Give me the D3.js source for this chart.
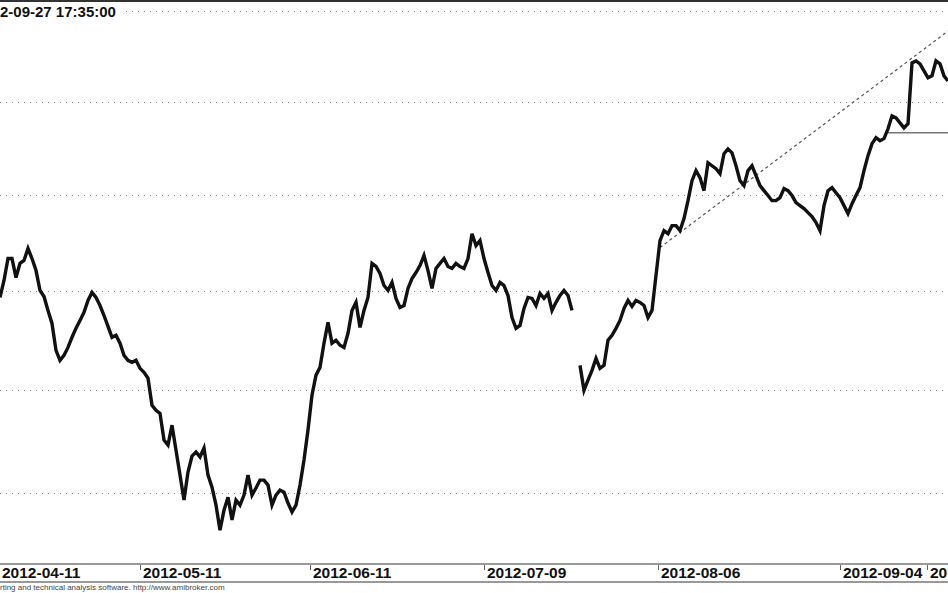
<!DOCTYPE html>
<html>
<head>
<meta charset="utf-8">
<script src="https://cdn.jsdelivr.net/npm/d3@7"></script>
<style>
  body { margin: 0; background: #fff; }
  svg { display: block; }
</style>
</head>
<body>
<div id="chart"></div>
<script>
// Price series, one value per bar (null = no data)
const closes = [
  1596.8, 1605.5, 1616.8, 1616.8, 1607.0, 1614.3, 1615.8, 1622.0, 1616.8, 1610.6,
  1600.4, 1597.3, 1590.2, 1583.6, 1570.0, 1565.0, 1567.5, 1571.5, 1576.6, 1581.1,
  1585.1, 1589.2, 1595.3, 1599.4, 1596.8, 1592.7, 1587.6, 1582.1, 1576.6, 1577.6,
  1573.6, 1567.5, 1565.0, 1564.0, 1565.0, 1561.0, 1559.0, 1556.1, 1542.7, 1540.2,
  1538.7, 1525.6, 1523.2, 1532.9, 1520.7, 1508.6, 1496.6, 1510.1, 1517.8, 1519.8,
  1517.4, 1521.7, 1508.6, 1502.8, 1494.2, 1482.3, 1491.8, 1498.0, 1487.1, 1496.6,
  1494.2, 1499.0, 1508.6, 1499.0, 1502.4, 1506.2, 1506.2, 1503.8, 1494.2, 1499.0,
  1501.4, 1500.4, 1495.2, 1490.9, 1494.2, 1503.8, 1515.9, 1530.5, 1547.7, 1557.6,
  1561.5, 1573.6, 1584.1, 1573.6, 1575.1, 1572.6, 1571.5, 1578.6, 1590.2, 1594.3,
  1581.6, 1590.2, 1596.8, 1614.3, 1612.7, 1609.1, 1602.9, 1600.4, 1604.5, 1596.3,
  1591.7, 1592.7, 1601.4, 1606.5, 1609.6, 1613.2, 1618.4, 1610.6, 1601.4, 1611.7,
  1614.3, 1616.8, 1612.7, 1611.7, 1614.3, 1612.7, 1611.7, 1616.8, 1629.7, 1623.5,
  1626.1, 1616.8, 1609.6, 1602.9, 1600.4, 1604.5, 1602.9, 1597.8, 1586.6, 1581.1,
  1582.6, 1591.2, 1596.8, 1596.3, 1592.7, 1598.8, 1596.3, 1598.8, 1590.2, 1594.3,
  1597.8, 1600.4, 1597.8, 1590.2, null,   1562.5, 1550.1, 1555.1, 1560.0, 1566.0,
  1561.0, 1562.5, 1575.1, 1577.6, 1581.1, 1585.1, 1591.2, 1595.3, 1592.2, 1595.3,
  1594.3, 1592.7, 1586.6, 1590.2, 1608.1, 1626.1, 1631.3, 1629.7, 1633.9, 1633.9,
  1631.3, 1637.6, 1647.0, 1657.6, 1662.9, 1659.2, 1652.3, 1667.1, 1665.5, 1663.9,
  1661.3, 1671.9, 1674.5, 1672.4, 1665.5, 1657.6, 1655.0, 1662.9, 1665.5, 1660.2,
  1655.0, 1652.3, 1649.7, 1647.0, 1647.0, 1648.6, 1653.4, 1652.3, 1649.7, 1646.0,
  1644.4, 1642.8, 1640.7, 1638.6, 1635.5, 1631.3, 1644.4, 1652.3, 1653.9, 1651.2,
  1648.6, 1644.4, 1640.2, 1645.4, 1649.7, 1653.9, 1662.9, 1670.9, 1677.3, 1680.5,
  1678.9, 1680.0, 1685.3, 1692.3, 1691.2, 1688.5, 1685.8, 1688.0, 1721.2, 1722.3,
  1720.7, 1716.8, 1713.0, 1714.1, 1722.3, 1720.7, 1714.1, 1711.3
];

// Date labels and the bar positions where they sit
const dateLabels = ["2012-04-11", "2012-05-11", "2012-06-11", "2012-07-09", "2012-08-06", "2012-09-04", "2012-10-01"];
const dateBars = [-0.25, 35, 77.5, 121, 164.5, 210, 231.75];

// Horizontal grid levels (log price axis)
const gridLevels = [1750, 1700, 1650, 1600, 1550, 1500];

// Drawn studies
const trendBars = [165, 237];
const trendPrices = [1622.5, 1738.8];
const levelBars = [222, 237];
const levelPrice = 1683.2;

const headerText = "2-09-27 17:35:00";
const footerText = "rting and technical analysis software. http://www.amibroker.com";

const W = 948, H = 593;

const svg = d3.select("#chart")
  .append("svg")
  .attr("width", W)
  .attr("height", H)
  .style("font-family", "Arial, 'Liberation Sans', sans-serif");

svg.append("rect").attr("width", W).attr("height", H).attr("fill", "#fff");

const x = d3.scaleLinear()
  .domain([0, closes.length - 1])
  .range([0, W]);

const y = d3.scaleLog()
  .domain([1500, 1750])
  .range([493, 11]);

// dotted price grid
svg.append("g")
  .selectAll("line")
  .data(gridLevels)
  .join("line")
    .attr("x1", 0)
    .attr("x2", W)
    .attr("y1", d => Math.round(y(d)) + 0.5)
    .attr("y2", d => Math.round(y(d)) + 0.5)
    .attr("stroke", "#8a8a8a")
    .attr("stroke-width", 1)
    .attr("stroke-dasharray", "1,5");

// trend line (dashed)
svg.append("line")
  .attr("x1", x(trendBars[0])).attr("y1", y(trendPrices[0]))
  .attr("x2", x(trendBars[1])).attr("y2", y(trendPrices[1]))
  .attr("stroke", "#555")
  .attr("stroke-width", 1.2)
  .attr("stroke-dasharray", "3,3");

// horizontal level
svg.append("line")
  .attr("x1", x(levelBars[0])).attr("x2", x(levelBars[1]))
  .attr("y1", y(levelPrice)).attr("y2", y(levelPrice))
  .attr("stroke", "#777")
  .attr("stroke-width", 1.5);

// price line
const line = d3.line()
  .defined(d => d !== null)
  .x((d, i) => x(i))
  .y(d => y(d));

svg.append("path")
  .datum(closes)
  .attr("d", line)
  .attr("fill", "none")
  .attr("stroke", "#111")
  .attr("stroke-width", 3.4)
  .attr("stroke-linejoin", "miter");

// top border + header
svg.append("rect").attr("x", 0).attr("y", 0).attr("width", W).attr("height", 2).attr("fill", "#333");
svg.append("rect").attr("x", 0).attr("y", 3).attr("width", 122).attr("height", 17).attr("fill", "#fff");
svg.append("text")
  .attr("x", 0).attr("y", 17)
  .attr("font-size", "15px")
  .attr("font-weight", "bold")
  .attr("fill", "#111")
  .text(headerText);

// date axis box
const axisTop = 564, axisBottom = 582;
svg.append("rect")
  .attr("x", 0).attr("y", axisTop)
  .attr("width", W).attr("height", axisBottom - axisTop)
  .attr("fill", "#fff");
[axisTop, axisBottom].forEach(v => {
  svg.append("line")
    .attr("x1", 0).attr("x2", W)
    .attr("y1", v).attr("y2", v)
    .attr("stroke", "#777")
    .attr("stroke-width", 1.5);
});

const ticks = svg.append("g")
  .selectAll("g")
  .data(dateLabels)
  .join("g")
    .attr("transform", (d, i) => `translate(${x(dateBars[i])},0)`);

ticks.append("line")
  .attr("x1", 0.5).attr("x2", 0.5)
  .attr("y1", axisTop + 1).attr("y2", axisTop + 6)
  .attr("stroke", "#666");

ticks.append("text")
  .attr("x", 3)
  .attr("y", 578)
  .attr("font-size", "15.5px")
  .attr("font-weight", "bold")
  .attr("fill", "#111")
  .text(d => d);

// footer
svg.append("text")
  .attr("x", 0).attr("y", 590)
  .attr("font-size", "8px")
  .attr("fill", "#444")
  .text(footerText);
</script>
</body>
</html>
